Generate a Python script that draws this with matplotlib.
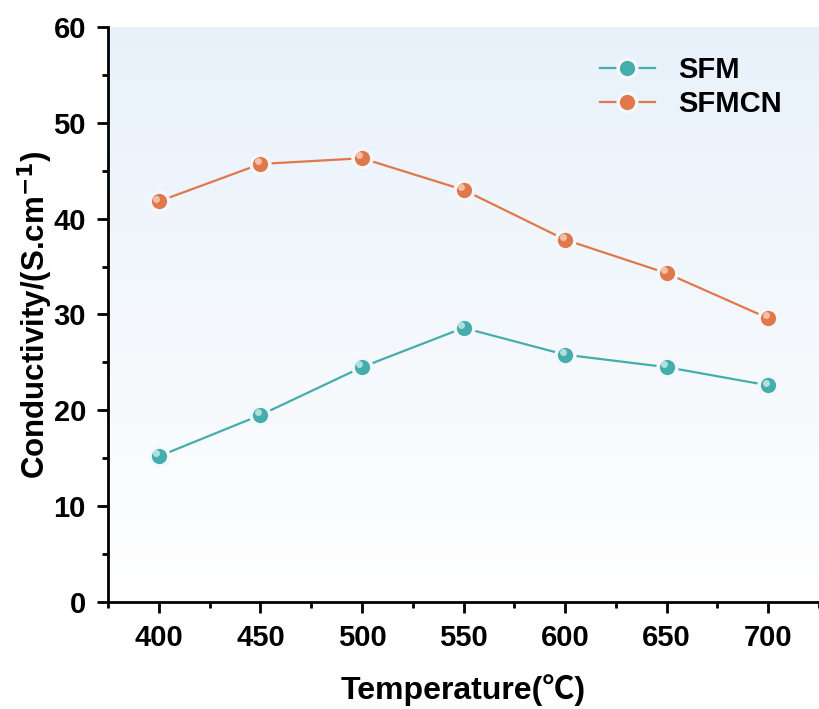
import numpy as np
import matplotlib.pyplot as plt
from matplotlib.transforms import offset_copy
from matplotlib.colors import LinearSegmentedColormap
from matplotlib.lines import Line2D

temperature = [400, 450, 500, 550, 600, 650, 700]
sfm = [15.2, 19.5, 24.5, 28.6, 25.8, 24.5, 22.6]
sfmcn = [41.8, 45.7, 46.3, 43.0, 37.8, 34.3, 29.6]

plt.rcParams["font.family"] = ["Liberation Sans", "DejaVu Sans"]
plt.rcParams["font.weight"] = "bold"
plt.rcParams["mathtext.default"] = "bf"

fig = plt.figure(figsize=(8.19, 7.09), dpi=100)
ax = fig.add_axes([0.132, 0.151, 0.868, 0.811])

# background gradient: white at bottom, light blue at top
grad = np.linspace(0, 1, 256).reshape(-1, 1)
cmap = LinearSegmentedColormap.from_list("bg", ["#ffffff", "#e8f1fa"])
ax.imshow(grad, cmap=cmap, aspect="auto", extent=[0, 1, 0, 1], origin="lower",
          transform=ax.transAxes, zorder=0)

EDGE = "#f4f8fc"


def sphere_series(x, y, color, light, label):
    ax.plot(x, y, color=color, lw=1.6, zorder=2)
    ax.plot(x, y, ls="none", marker="o", ms=13.5, mfc=color, mec=EDGE,
            mew=2.5, zorder=3, label=label)
    hl = offset_copy(ax.transData, fig=fig, x=-1.8, y=2.0, units="points")
    ax.plot(x, y, ls="none", marker="o", ms=5, mfc=light, mec="none",
            alpha=0.75, transform=hl, zorder=4)


sphere_series(temperature, sfm, "#45aeac", "#d4f1ef", "SFM")
sphere_series(temperature, sfmcn, "#e0784c", "#fad8c8", "SFMCN")

ax.set_xlim(375, 725)
ax.set_ylim(0, 60)
ax.set_xticks(temperature)
ax.set_xticks(np.arange(375, 726, 25), minor=True)
ax.set_yticks(np.arange(0, 61, 10))
ax.set_yticks(np.arange(0, 61, 5), minor=True)

for side in ["top", "right"]:
    ax.spines[side].set_visible(False)
for side in ["left", "bottom"]:
    ax.spines[side].set_linewidth(2)

ax.tick_params(which="major", direction="out", length=8, width=2, labelsize=21, pad=8)
ax.tick_params(which="minor", direction="out", length=4, width=2)
for lab in ax.get_xticklabels() + ax.get_yticklabels():
    lab.set_fontweight("bold")

ax.set_xlabel("Temperature(\u2103)", fontsize=23, fontweight="bold", labelpad=16,
              family=["Liberation Sans", "Noto Sans CJK SC", "DejaVu Sans"])
ax.set_ylabel("Conductivity/(S.cm$^{-1}$)", fontsize=22.5, fontweight="bold", labelpad=-1)

handles = []
for color, label in [("#45aeac", "SFM"), ("#e0784c", "SFMCN")]:
    handles.append(Line2D([0], [0], color=color, lw=1.6, marker="o", ms=13.5,
                          mfc=color, mec=EDGE, mew=2.5, label=label))
ax.legend(handles=handles, loc="upper right", frameon=False,
          handlelength=1.9, bbox_to_anchor=(0.985, 0.995), labelspacing=0.2,
          handletextpad=0.8, prop={"weight": "bold", "size": 21})

fig.savefig("out.png", dpi=100)
